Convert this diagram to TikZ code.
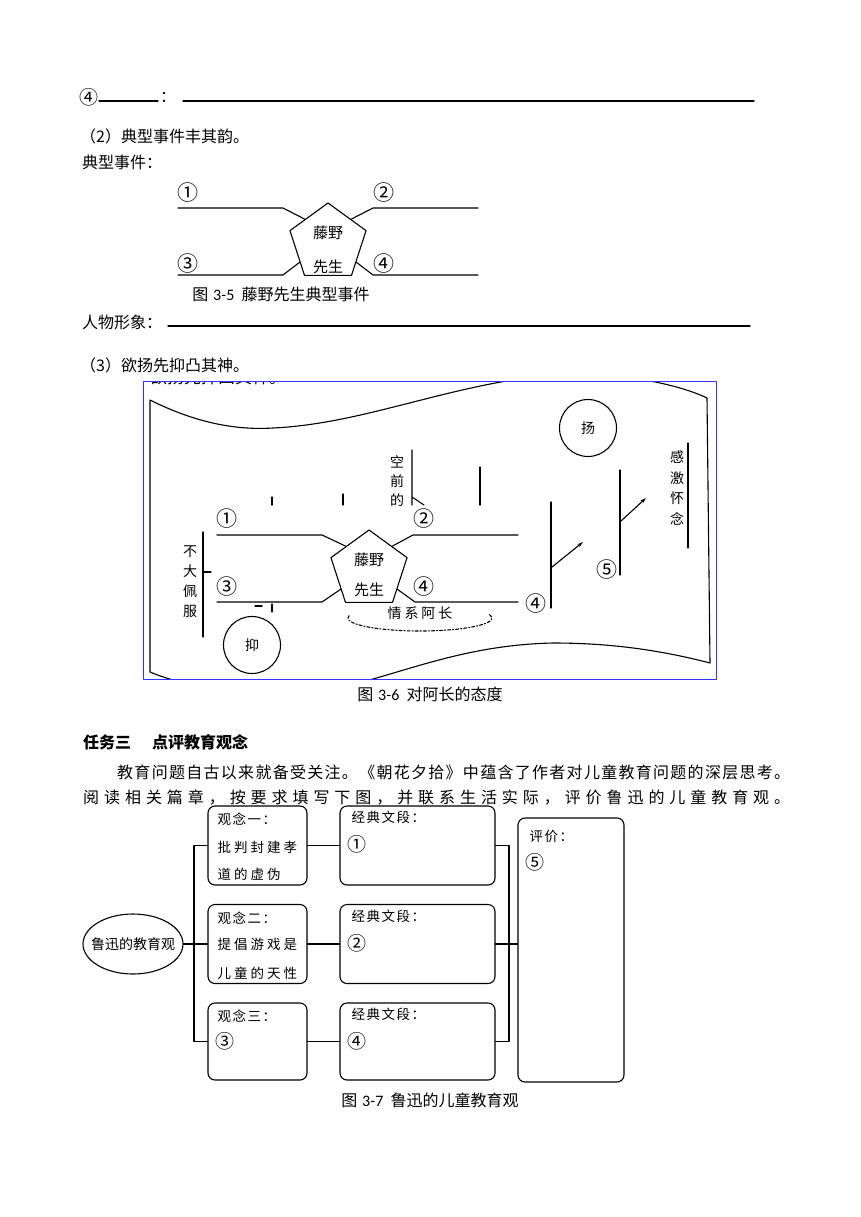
\documentclass[tikz,border=0pt]{standalone}
\usepackage{fontspec}
\setmainfont{Noto Sans CJK SC}
\newfontfamily\latinfont{Carlito}
\usetikzlibrary{positioning,shapes.geometric,calc,arrows.meta}

% 字距：\trk 在字间加固定间隔，\spreadto 撑满给定宽度
\makeatletter
\def\trk@loop#1{\ifx#1\@nil\else\kern\trk@gap\relax#1\expandafter\trk@loop\fi}
\newcommand\trk[2]{\begingroup\def\trk@gap{#1}\trk@first#2\@nil\endgroup}
\def\trk@first#1{#1\trk@loop}
\def\spr@loop#1{\ifx#1\@nil\else\hfill#1\expandafter\spr@loop\fi}
\newcommand\spreadto[2]{\makebox[#1][s]{\spr@first#2\@nil}}
\def\spr@first#1{#1\spr@loop}
\makeatother

\tikzset{
  ink/.style={line width=1.3pt},
  wire/.style={line width=1.1pt},
  body/.style={anchor=west, inner sep=0pt, font=\fontsize{16}{19}\selectfont},
  caption/.style={inner sep=0pt, font=\fontsize{16}{19}\selectfont},
  lbl/.style={inner sep=0pt, align=center, font=\fontsize{14}{19}\selectfont},
  num/.style={inner sep=0pt, font=\fontsize{21}{24}\selectfont},
  penta/.style={draw, wire, regular polygon, regular polygon sides=5, minimum size=80pt, inner sep=0pt},
  roll/.style={draw, wire, circle, minimum size=57pt, inner sep=0pt, font=\fontsize{14}{17}\selectfont},
  card/.style={draw, wire, rounded corners=7pt, inner sep=0pt},
  boxtxt/.style={anchor=west, inner sep=0pt, font=\fontsize{13.5}{16}\selectfont},
  boxnum/.style={anchor=west, inner sep=0pt, font=\fontsize{19}{22}\selectfont},
  tip/.style={-{Stealth[length=6pt,width=3.5pt]}}
}

\begin{document}
\begin{tikzpicture}[x=1pt, y=-1pt, line cap=round, line join=round]
  \useasboundingbox (0,0) rectangle (860,1217);
  % 第四空
  \node[num, font=\fontsize{19}{22}\selectfont] (q4) at (89,97) {④};
  \node[body] (q4c) at (160,97) {：};
  \draw[ink] (99,101) -- (158,101);
  \draw[ink] (183,101) -- (754,101);
  % （2）
  \node[body] (t2) at (80,136) {（2）典型事件丰其韵。};
  \node[body] (t2a) at (82,162) {典型事件：};

  % 图3-5 五边形和四条线
  \node[penta] (fa) at (328,243) {};
  \node[lbl, font=\fontsize{15}{18}\selectfont] (fa1) at (328,233) {藤野};
  \node[lbl, font=\fontsize{15}{18}\selectfont] (fa2) at (328,267) {先生};
  \coordinate (fa-a) at (178,208);
  \coordinate (fa-b) at (478,208);
  \coordinate (fa-c) at (178,275);
  \coordinate (fa-d) at (478,275);
  \draw[wire] (fa-a) -- (283,208) -- ($(fa.corner 1)!0.6!(fa.corner 2)$);
  \draw[wire] (fa-b) -- (373,208) -- ($(fa.corner 1)!0.6!(fa.corner 5)$);
  \draw[wire] (fa-c) -- (283,275) -- ($(fa.corner 2)!0.7!(fa.corner 3)$);
  \draw[wire] (fa-d) -- (373,275) -- ($(fa.corner 5)!0.7!(fa.corner 4)$);
  \node[num] (fa-n1) at (188,193) {①};
  \node[num] (fa-n2) at (384,193) {②};
  \node[num] (fa-n3) at (188,264) {③};
  \node[num] (fa-n4) at (384,264) {④};
  \node[caption] (cap5) at (281,294) {图\hspace{0.3em}{\latinfont 3-5}\hspace{0.45em}藤野先生典型事件};

  % 人物形象、（3）
  \node[body] (t3) at (82,322) {人物形象：};
  \draw[ink] (168,326) -- (750,326);
  \node[body] (t4) at (80,365) {（3）欲扬先抑凸其神。};

  % 图3-6 卷轴
  \begin{scope}
    \clip (143,381) rectangle (716,679);
    \node[body, font=\fontsize{17}{20}\selectfont] (old) at (150,377) {欲扬先抑凸其神。};
    \draw[wire] (150,400) .. controls (200,425) and (240,430) .. (273,428)
      .. controls (360,424) and (440,388) .. (540,376)
      .. controls (620,370) and (680,385) .. (707,398)
      -- (710,663)
      .. controls (660,650) and (610,643) .. (553,643)
      .. controls (460,645) and (400,675) .. (330,690)
      .. controls (250,700) and (180,685) .. (150,672) -- cycle;
  \end{scope}
  \draw[blue!80!white, line width=1pt] (143,381) rectangle (716,679);

  % 被盖住的上半截
  \begin{scope}
    \clip (200,430) rectangle (530,505);
    \node[lbl] (kq) at (397,481) {空\\前\\的};
    \draw[wire] (412,450) -- (412,505) (412,497) -- (424,505);
    \draw[wire] (480,467) -- (480,505);
    \draw[wire] (272,497) -- (272,505) (343,494) -- (343,505);
  \end{scope}

  % 扬
  \node[roll] (yang) at (588,428) {扬};
  \node[lbl, font=\fontsize{14}{20.5}\selectfont] (gj) at (677,488) {感\\激\\怀\\念};
  \draw[wire] (688,443) -- (688,548);
  \draw[wire] (620,470) -- (620,575);
  \draw[wire, tip] (621,521) -- (646,498);
  \node[num] (fb-n5) at (607,570) {⑤};
  \draw[wire] (551,502) -- (551,608);
  \draw[wire, tip] (552,567) -- (583,542);
  \node[num] (fb-n6) at (536,604) {④};

  % 下半截
  \node[penta] (fb) at (369,570) {};
  \node[lbl, font=\fontsize{15}{18}\selectfont] (fb1) at (369,560) {藤野};
  \node[lbl, font=\fontsize{15}{18}\selectfont] (fb2) at (369,590) {先生};
  \coordinate (fb-a) at (217,535);
  \coordinate (fb-b) at (518,535);
  \coordinate (fb-c) at (217,602);
  \coordinate (fb-d) at (518,602);
  \draw[wire] (fb-a) -- (322,535) -- ($(fb.corner 1)!0.6!(fb.corner 2)$);
  \draw[wire] (fb-b) -- (413,535) -- ($(fb.corner 1)!0.6!(fb.corner 5)$);
  \draw[wire] (fb-c) -- (322,602) -- ($(fb.corner 2)!0.7!(fb.corner 3)$);
  \draw[wire] (fb-d) -- (415,602) -- ($(fb.corner 5)!0.7!(fb.corner 4)$);
  \node[num] (fb-n1) at (227,519) {①};
  \node[num] (fb-n2) at (424,519) {②};
  \node[num] (fb-n3) at (227,587) {③};
  \node[num] (fb-n4) at (424,587) {④};
  \coordinate (el) at (420,618);
  \draw[wire, dash dot] ($(el)+(-15:72 and 13)$) arc[start angle=-15, end angle=195, x radius=72, y radius=13];
  \node[lbl] (qx) at (420,613) {\trk{3pt}{情系阿长}};

  % 抑
  \node[lbl, font=\fontsize{14}{20}\selectfont] (bd) at (190,582) {不\\大\\佩\\服};
  \draw[wire] (203,532) -- (203,637) (203,572) -- (211,572);
  \draw[wire] (255,606) -- (262,606) (272,604) -- (272,612);
  \node[roll] (yi) at (252,645) {抑};
  \node[caption] (cap6) at (430,694) {图\hspace{0.3em}{\latinfont 3-6}\hspace{0.45em}对阿长的态度};

  % 任务三
  \node[body, font=\fontsize{16}{19}\selectfont\bfseries] (h3) at (83,742) {任务三\hspace{1.3em}点评教育观念};
  \node[body] (p1) at (117,772) {\spreadto{673pt}{教育问题自古以来就备受关注。《朝花夕拾》中蕴含了作者对儿童教育问题的深层思考。}};
  \node[body] (p2) at (83,798) {\spreadto{707pt}{阅读相关篇章，按要求填写下图，并联系生活实际，评价鲁迅的儿童教育观。}};

  % 图3-7
  \node[draw, wire, ellipse, minimum width=100pt, minimum height=60pt, inner sep=0pt] (root) at (133,944) {};
  \node[lbl] (rootx) at (root.center) {鲁迅的教育观};
  \foreach \n/\y/\h in {1/845.5/79, 2/944/79, 3/1041.5/77} {
    \node[card, minimum width=99pt, minimum height=\h pt] (c\n) at (257.5,\y) {};
    \node[card, minimum width=155pt, minimum height=\h pt] (d\n) at (417.5,\y) {};
    \draw[wire] (c\n.east) -- (d\n.west);
    \node[boxtxt] (d\n t) at ([xshift=12pt, yshift=-12pt]d\n.north west) {\trk{1.5pt}{经典文段：}};
  }
  \node[card, minimum width=106pt, minimum height=264pt] (ev) at (571,950) {};
  % 左边的树干
  \coordinate (tk) at (194,944);
  \draw[wire] (c1.west) -| (tk) |- (c3.west);
  \draw[wire] (root.east) -- (c2.west);
  % 右边汇到评价
  \coordinate (rk) at (509,944);
  \draw[wire] (d1.east) -| (rk) |- (d3.east);
  \draw[wire] (d2.east) -- (d2.east -| ev.west);
  % 框里的字
  \node[boxtxt] (c1a) at ([xshift=10pt, yshift=-14pt]c1.north west) {\trk{1.5pt}{观念一：}};
  \node[boxtxt] (c1b) at ([xshift=10pt, yshift=-42pt]c1.north west) {\trk{3pt}{批判封建孝}};
  \node[boxtxt] (c1c) at ([xshift=10pt, yshift=-69pt]c1.north west) {\trk{3pt}{道的虚伪}};
  \node[boxtxt] (c2a) at ([xshift=10pt, yshift=-14pt]c2.north west) {\trk{1.5pt}{观念二：}};
  \node[boxtxt] (c2b) at ([xshift=10pt, yshift=-40pt]c2.north west) {\trk{3pt}{提倡游戏是}};
  \node[boxtxt] (c2c) at ([xshift=10pt, yshift=-69pt]c2.north west) {\trk{3pt}{儿童的天性}};
  \node[boxtxt] (c3a) at ([xshift=10pt, yshift=-14pt]c3.north west) {\trk{1.5pt}{观念三：}};
  \node[boxnum] (c3b) at ([xshift=8pt, yshift=-39pt]c3.north west) {③};
  \node[boxnum] (d1n) at ([xshift=8pt, yshift=-39pt]d1.north west) {①};
  \node[boxnum] (d2n) at ([xshift=8pt, yshift=-39pt]d2.north west) {②};
  \node[boxnum] (d3n) at ([xshift=8pt, yshift=-39pt]d3.north west) {④};
  \node[boxtxt] (eva) at ([xshift=12pt, yshift=-19pt]ev.north west) {\trk{1.5pt}{评价：}};
  \node[boxnum] (evn) at ([xshift=8pt, yshift=-45pt]ev.north west) {⑤};
  \node[caption] (cap7) at (430,1100) {图\hspace{0.3em}{\latinfont 3-7}\hspace{0.45em}鲁迅的儿童教育观};
\end{tikzpicture}
\end{document}
